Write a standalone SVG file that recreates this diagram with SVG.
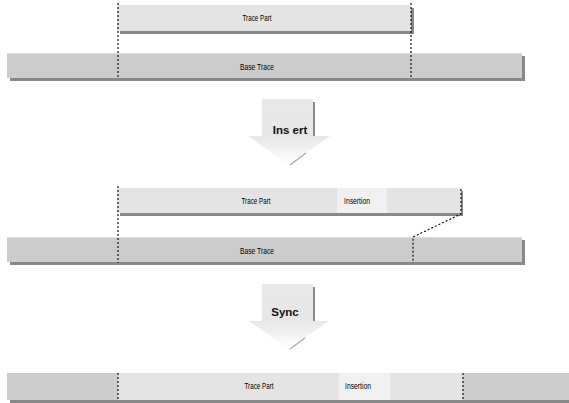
<svg xmlns="http://www.w3.org/2000/svg" width="569" height="403" viewBox="0 0 569 403">
<style>
.base{fill:#cccccc}
.part{fill:#e4e4e4}
.ins{fill:#f1f1f1}
.shadow{fill:#888888}
.lbl{font-family:"Liberation Sans",Arial,sans-serif;font-size:9px;fill:#000;text-anchor:middle}
.arr{font-family:"Liberation Sans",Arial,sans-serif;font-size:11.5px;font-weight:bold;fill:#111;text-anchor:middle}
.dot{fill:none;stroke:#111;stroke-width:1.2;stroke-dasharray:2 2}
.ashade{fill:none;stroke:#8a8a8a;stroke-width:2}
</style>
<defs>
<linearGradient id="ag" x1="0" y1="0" x2="0" y2="1">
<stop offset="0" stop-color="#e9e9e9"/>
<stop offset="0.55" stop-color="#e6e6e6"/>
<stop offset="1" stop-color="#ffffff"/>
</linearGradient>
</defs>
<rect width="569" height="403" fill="#ffffff"/>

<g id="trace-part-1">
<rect class="shadow" x="120" y="8" width="294" height="26"/>
<rect class="part" x="117" y="5" width="294" height="26"/>
<text class="lbl" x="257" y="20.5" textLength="29" lengthAdjust="spacingAndGlyphs">Trace Part</text>
</g>
<g id="base-trace-1">
<rect class="shadow" x="10" y="56" width="515" height="25"/>
<rect class="base" x="7" y="53" width="515" height="25"/>
<line x1="7" y1="53.5" x2="522" y2="53.5" stroke="#dcdcdc"/>
<text class="lbl" x="257" y="70" textLength="34" lengthAdjust="spacingAndGlyphs">Base Trace</text>
</g>

<g id="insert-arrow">
<path d="M262 99 H313 V136 H330 L289 165 L248 136 H262 Z" fill="url(#ag)"/>
<line class="ashade" x1="314" y1="102" x2="314" y2="136"/>
<line x1="306" y1="153" x2="290" y2="165" stroke="#a8a8a8" stroke-width="1.2"/>
<text class="arr" x="290" y="134">Ins ert</text>
</g>

<g id="trace-part-2">
<rect class="shadow" x="120" y="191" width="343" height="25"/>
<rect class="part" x="117" y="188" width="344" height="25"/>
<rect class="ins" x="337" y="188" width="50" height="25"/>
<text class="lbl" x="256" y="203.5" textLength="29" lengthAdjust="spacingAndGlyphs">Trace Part</text>
<text class="lbl" x="357" y="203.5" textLength="26" lengthAdjust="spacingAndGlyphs">Insertion</text>
</g>
<g id="base-trace-2">
<rect class="shadow" x="10" y="240" width="515" height="25"/>
<rect class="base" x="7" y="237" width="515" height="25"/>
<line x1="7" y1="237.5" x2="522" y2="237.5" stroke="#dcdcdc"/>
<text class="lbl" x="257" y="254" textLength="34" lengthAdjust="spacingAndGlyphs">Base Trace</text>
</g>

<g id="sync-arrow">
<path d="M262 284 H313 V321 H329 L289 349 L249 321 H262 Z" fill="url(#ag)"/>
<line class="ashade" x1="314" y1="287" x2="314" y2="321"/>
<line x1="305" y1="338" x2="290" y2="349" stroke="#a8a8a8" stroke-width="1.2"/>
<text class="arr" x="285" y="316">Sync</text>
</g>

<g id="synced-trace">
<rect class="shadow" x="10" y="376" width="565" height="27"/>
<rect class="base" x="7" y="373" width="565" height="27"/>
<rect class="part" x="118" y="373" width="345" height="27"/>
<rect class="ins" x="339" y="373" width="51" height="27"/>
<text class="lbl" x="259" y="389" textLength="29" lengthAdjust="spacingAndGlyphs">Trace Part</text>
<text class="lbl" x="358" y="389" textLength="26" lengthAdjust="spacingAndGlyphs">Insertion</text>
</g>

<g id="connectors">
<line class="dot" x1="118" y1="3" x2="118" y2="79"/>
<line class="dot" x1="411" y1="3" x2="411" y2="79"/>
<line class="dot" x1="118" y1="186" x2="118" y2="263"/>
<polyline class="dot" points="461,189 461,214 413,237 413,263"/>
<line class="dot" x1="118" y1="373" x2="118" y2="401"/>
<line class="dot" x1="463" y1="373" x2="463" y2="401"/>
</g>
</svg>
